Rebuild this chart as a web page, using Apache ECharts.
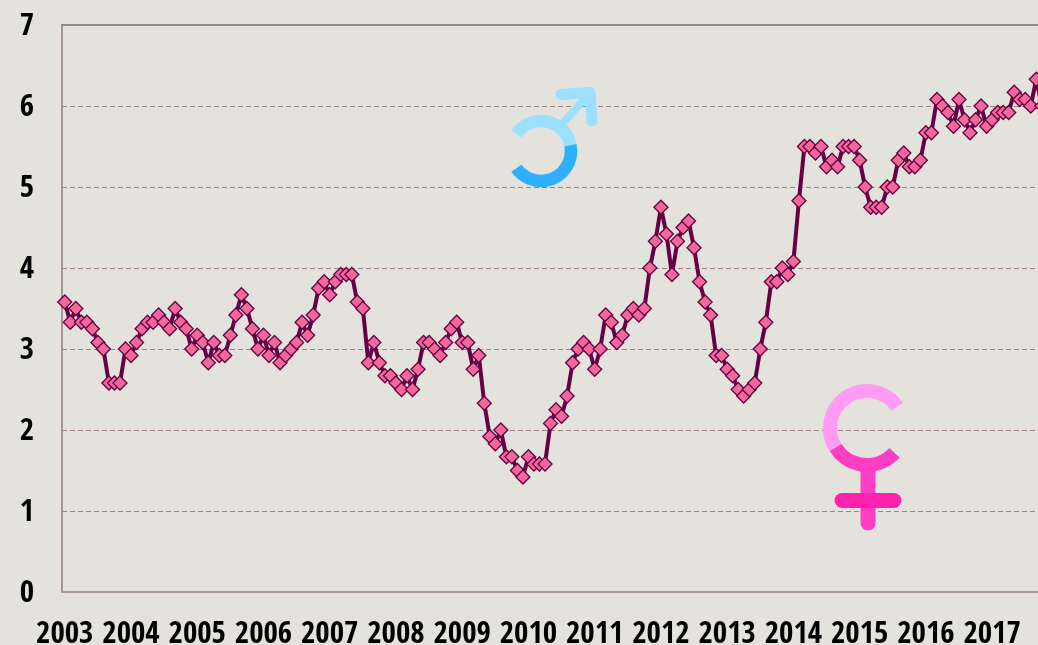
<!DOCTYPE html>
<html>
<head>
<meta charset="utf-8">
<style>html,body{margin:0;padding:0;background:#e3e2dd;overflow:hidden}#c{width:1038px;height:645px}</style>
<script src="https://cdn.jsdelivr.net/npm/echarts@6/dist/echarts.min.js"></script>
</head>
<body>
<div id="c"></div>
<script>
const years = [2003,2004,2005,2006,2007,2008,2009,2010,2011,2012,2013,2014,2015,2016,2017];
const yTicks = [0,1,2,3,4,5,6,7];
const values = [
 3.58,3.33,3.5,3.33,3.33,3.25,3.08,3.0,2.58,2.58,2.58,3.0,
 2.92,3.08,3.25,3.33,3.33,3.42,3.33,3.25,3.5,3.33,3.25,3.0,
 3.17,3.08,2.83,3.08,2.92,2.92,3.17,3.42,3.67,3.5,3.25,3.0,
 3.17,2.92,3.08,2.83,2.92,3.0,3.08,3.33,3.17,3.42,3.75,3.83,
 3.67,3.83,3.92,3.92,3.92,3.58,3.5,2.83,3.08,2.83,2.67,2.67,
 2.58,2.5,2.67,2.5,2.75,3.08,3.08,3.0,2.92,3.08,3.25,3.33,
 3.08,3.08,2.75,2.92,2.33,1.92,1.83,2.0,1.67,1.67,1.5,1.42,
 1.67,1.58,1.58,1.58,2.08,2.25,2.17,2.42,2.83,3.0,3.08,3.0,
 2.75,3.0,3.42,3.33,3.08,3.17,3.42,3.5,3.42,3.5,4.0,4.33,
 4.75,4.42,3.92,4.33,4.5,4.58,4.25,3.83,3.58,3.42,2.92,2.92,
 2.75,2.67,2.5,2.42,2.5,2.58,3.0,3.33,3.83,3.83,4.0,3.92,
 4.08,4.83,5.5,5.5,5.42,5.5,5.25,5.33,5.25,5.5,5.5,5.5,
 5.33,5.0,4.75,4.75,4.75,5.0,5.0,5.33,5.42,5.25,5.25,5.33,
 5.67,5.67,6.08,6.0,5.92,5.75,6.08,5.83,5.67,5.83,6.0,5.75,
 5.83,5.92,5.92,5.92,6.17,6.08,6.08,6.0,6.33,6.0
];
const monthsPerYear = 12;
const categories = [];
years.forEach(y => { for (let m = 1; m <= monthsPerYear; m++) categories.push(y + '-' + String(m).padStart(2,'0')); });

const chart = echarts.init(document.getElementById('c'), null, {renderer:'canvas'});
const labelFont = {fontFamily:'"Open Sans Condensed","Liberation Sans",Arial,sans-serif', fontWeight:'bold', fontSize:31, color:'#000'};
const deg = d => d*Math.PI/180;
const lightBlue = '#9be0ff', deepBlue = '#2fafff', lightPink = '#ff9bf3', deepPink = '#ff3fc3';
const arc = (cx,cy,r,a,b,cw,w,c) => ({type:'arc',silent:true,z:20,shape:{cx,cy,r,startAngle:deg(a),endAngle:deg(b),clockwise:cw},style:{stroke:c,lineWidth:w,fill:null,lineCap:'butt'}});
const seg = (x1,y1,x2,y2,w,c) => ({type:'line',silent:true,z:20,shape:{x1,y1,x2,y2},style:{stroke:c,lineWidth:w,lineCap:'round'}});

chart.setOption({
  animation:false,
  backgroundColor:'#e3e2dd',
  grid:{left:62,top:25,bottom:53,width:993.6,containLabel:false,outerBoundsMode:'none'},
  xAxis:[{
    type:'category',data:categories,boundaryGap:true,position:'bottom',
    axisLine:{show:true,lineStyle:{color:'#a99a9c',width:2}},
    axisTick:{show:false},splitLine:{show:false},
    axisLabel:Object.assign({interval:monthsPerYear-1,margin:27,hideOverlap:false,formatter:v=>v.slice(0,4)},labelFont)
  },{
    type:'category',data:categories,position:'top',
    axisLine:{show:true,lineStyle:{color:'#8b8b8b',width:2}},
    axisTick:{show:false},axisLabel:{show:false},splitLine:{show:false}
  }],
  yAxis:{
    type:'value',min:yTicks[0],max:yTicks[yTicks.length-1],interval:1,
    axisLine:{show:true,lineStyle:{color:'#a49497',width:2}},
    axisTick:{show:false},
    axisLabel:{margin:28,showMinLabel:true,showMaxLabel:true,formatter:'{t|{value}}',
      rich:{t:Object.assign({padding:[4,0,0,0]},labelFont)}},
    splitLine:{show:true,showMinLine:false,showMaxLine:false,lineStyle:{color:'#9c8288',width:1,type:[5,3]}}
  },
  series:[{
    type:'line',xAxisIndex:0,data:values,clip:false,
    showSymbol:true,showAllSymbol:true,symbol:'diamond',symbolSize:14,
    lineStyle:{color:'#660044',width:4,join:'round'},
    itemStyle:{color:'#f2689a',borderColor:'#660044',borderWidth:1.3},
    emphasis:{disabled:true},z:5
  }],
  graphic:[
    seg(563,123,590,93,7.5,lightBlue),
    seg(561,94.5,590,92.5,11,lightBlue),
    seg(590,93,592,121,11,lightBlue),
    arc(541,151,30,215,349,true,12.5,lightBlue),
    arc(541,151,30,349,505,true,12.5,deepBlue),
    seg(868,470,868,523,15,deepPink),
    seg(842,500.5,894,500.5,15,'#ff22b0'),
    arc(867,428,37,325,148,false,14,lightPink),
    arc(867,428,37,148,42,false,14,deepPink)
  ]
});
</script>
</body>
</html>
